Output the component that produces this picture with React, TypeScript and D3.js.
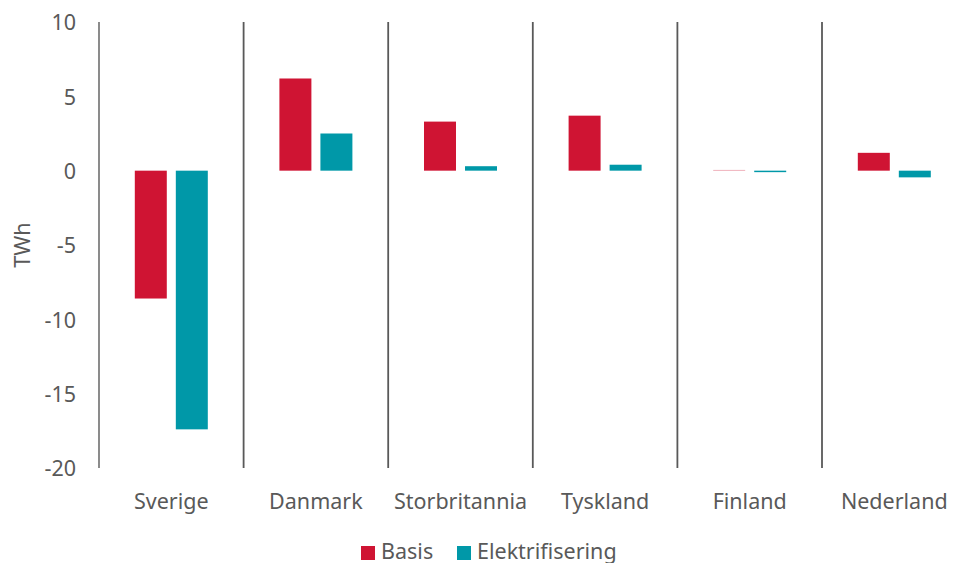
import React from "react";
import * as d3 from "d3";

// Change in net export per country, TWh
const categories = ["Sverige", "Danmark", "Storbritannia", "Tyskland", "Finland", "Nederland"];
const basis = [-8.6, 6.2, 3.3, 3.7, 0.05, 1.2];
const elektrifisering = [-17.4, 2.5, 0.3, 0.4, -0.1, -0.45];
const yTicks = [10, 5, 0, -5, -10, -15, -20];
const seriesNames = ["Basis", "Elektrifisering"];
const seriesColors = ["#CF1433", "#0098A8"];

const W = 957;
const H = 563;
const FONT = "'Noto Sans', 'Source Sans Pro', sans-serif";
const TEXT = "#595959";
const FS = 21.5;

export default function App() {
  const x = d3.scaleBand<string>().domain(categories).range([99, 966.6]);
  const y = d3.scaleLinear().domain([-20, 10]).range([468, 22]);
  const inner = d3
    .scaleBand<string>()
    .domain(seriesNames)
    .range([0, 73])
    .paddingInner(0.22);
  const series = [basis, elektrifisering];

  return (
    <svg
      width={W}
      height={H}
      style={{ position: "absolute", left: 0, top: 0, background: "#fff" }}
      fontFamily={FONT}
    >
      {/* category separators */}
      {d3.range(categories.length + 1).map((i) => {
        const xv = 99 + i * x.step();
        return (
          <line
            key={"sep" + i}
            x1={xv}
            x2={xv}
            y1={y(10)}
            y2={y(-20)}
            stroke={i === 0 ? "#7f7f7f" : "#595959"}
            strokeWidth={1.8}
          />
        );
      })}

      {/* bars */}
      {categories.map((c, ci) => {
        const cx = (x(c) as number) + x.bandwidth() / 2;
        const left = cx - 36.5;
        return series.map((vals, si) => {
          const v = vals[ci];
          const y0 = y(Math.max(0, v));
          const h = Math.abs(y(v) - y(0));
          return (
            <rect
              key={c + si}
              x={left + (inner(seriesNames[si]) as number)}
              y={y0}
              width={inner.bandwidth()}
              height={Math.max(h, 0.8)}
              fill={seriesColors[si]}
              opacity={Math.abs(v) < 0.08 ? 0.4 : 1}
            />
          );
        });
      })}

      {/* y tick labels */}
      {yTicks.map((t) => (
        <text
          key={"yt" + t}
          x={76}
          y={y(t) + 8.2}
          textAnchor="end"
          fontSize={FS}
          fill={TEXT}
        >
          {t}
        </text>
      ))}

      {/* y axis title */}
      <text
        transform={`translate(30, ${y(-5)}) rotate(-90)`}
        textAnchor="middle"
        fontSize={FS}
        fill={TEXT}
      >
        TWh
      </text>

      {/* category labels */}
      {categories.map((c) => (
        <text
          key={"cl" + c}
          x={(x(c) as number) + x.bandwidth() / 2}
          y={509}
          textAnchor="middle"
          fontSize={FS}
          fill={TEXT}
        >
          {c}
        </text>
      ))}

      {/* legend */}
      {seriesNames.map((s, i) => {
        const lx = i === 0 ? 361 : 457;
        return (
          <g key={"lg" + s}>
            <rect x={lx} y={546} width={14} height={14} fill={seriesColors[i]} />
            <text x={lx + 20} y={559} fontSize={FS} fill={TEXT}>
              {s}
            </text>
          </g>
        );
      })}
    </svg>
  );
}
